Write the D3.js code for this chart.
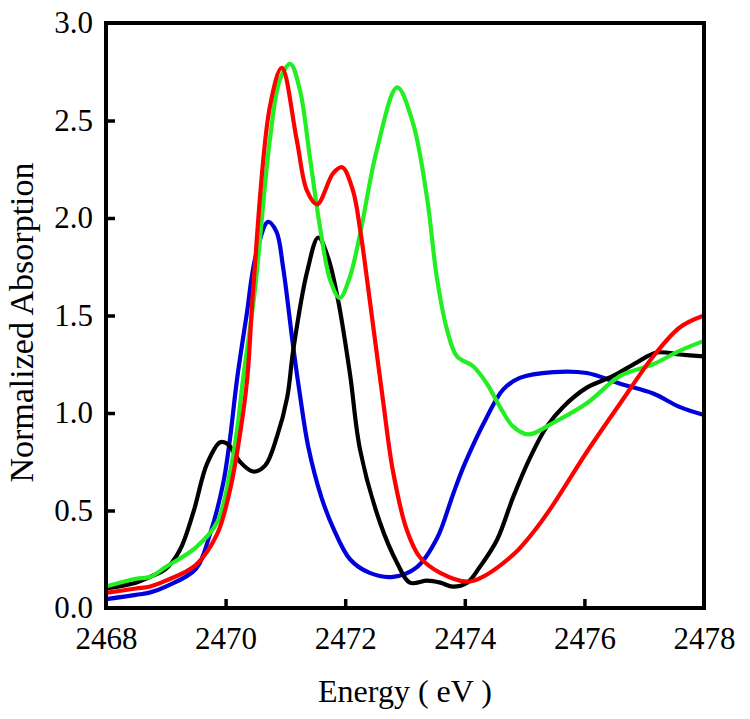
<!DOCTYPE html>
<html><head><meta charset="utf-8">
<script src="https://cdn.jsdelivr.net/npm/d3@7"></script>
<style>body{margin:0;background:#fff}svg{display:block}</style>
</head><body>
<svg id="c" width="750" height="719"></svg>
<script>
const xTicks = [2468, 2470, 2472, 2474, 2476, 2478];
const yTicks = [0.0, 0.5, 1.0, 1.5, 2.0, 2.5, 3.0];

const blueE = [2468, 2468.5, 2468.74, 2469, 2469.5, 2469.74, 2469.96, 2470.07, 2470.19, 2470.35, 2470.5, 2470.71, 2470.85, 2470.96, 2471.13, 2471.24, 2471.38, 2471.6, 2471.8, 2472.08, 2472.41, 2472.8, 2473.2, 2473.54, 2473.8, 2474.0, 2474.37, 2474.64, 2474.92, 2475.48, 2476.04, 2476.6, 2477.15, 2477.6, 2478];
const blueV = [0.045, 0.067, 0.08, 0.11, 0.20, 0.38, 0.64, 0.86, 1.17, 1.5, 1.8, 1.98, 1.93, 1.75, 1.34, 1.10, 0.83, 0.57, 0.41, 0.25, 0.18, 0.16, 0.21, 0.36, 0.58, 0.74, 0.98, 1.12, 1.18, 1.21, 1.205, 1.15, 1.10, 1.03, 0.99];

const redE = [2468, 2468.5, 2468.74, 2469, 2469.5, 2469.86, 2470.07, 2470.21, 2470.36, 2470.46, 2470.74, 2470.94, 2471.19, 2471.36, 2471.53, 2471.8, 2471.95, 2472.13, 2472.25, 2472.41, 2472.63, 2472.8, 2473.03, 2473.25, 2473.59, 2474.04, 2474.3, 2474.6, 2474.9, 2475.2, 2475.5, 2476.04, 2476.6, 2477.15, 2477.6, 2478];
const redV = [0.077, 0.10, 0.11, 0.14, 0.22, 0.38, 0.60, 0.83, 1.17, 1.63, 2.57, 2.77, 2.40, 2.14, 2.07, 2.23, 2.26, 2.14, 1.94, 1.58, 1.07, 0.70, 0.40, 0.26, 0.18, 0.135, 0.16, 0.22, 0.30, 0.41, 0.54, 0.80, 1.05, 1.29, 1.44, 1.50];

const greenE = [2468, 2468.5, 2468.74, 2469, 2469.5, 2469.86, 2470.07, 2470.19, 2470.29, 2470.49, 2470.74, 2470.91, 2471.08, 2471.24, 2471.41, 2471.58, 2471.75, 2471.91, 2472.08, 2472.25, 2472.53, 2472.87, 2473.13, 2473.37, 2473.53, 2473.7, 2473.87, 2474.14, 2474.37, 2474.59, 2474.81, 2475.06, 2475.48, 2476.04, 2476.6, 2477.15, 2477.6, 2478];
const greenV = [0.11, 0.15, 0.16, 0.21, 0.31, 0.44, 0.69, 0.91, 1.17, 1.63, 2.40, 2.71, 2.79, 2.66, 2.31, 1.95, 1.68, 1.59, 1.70, 1.92, 2.35, 2.67, 2.49, 2.10, 1.70, 1.43, 1.29, 1.24, 1.15, 1.03, 0.93, 0.89, 0.95, 1.05, 1.19, 1.25, 1.32, 1.37];

const blackE = [2468, 2468.5, 2468.74, 2469, 2469.24, 2469.46, 2469.69, 2469.91, 2470.04, 2470.24, 2470.46, 2470.66, 2470.86, 2471.03, 2471.13, 2471.36, 2471.55, 2471.71, 2471.88, 2472.08, 2472.25, 2472.58, 2472.87, 2473.08, 2473.37, 2473.59, 2473.8, 2474.04, 2474.25, 2474.54, 2474.81, 2475.09, 2475.37, 2475.64, 2476.04, 2476.48, 2476.88, 2477.21, 2477.6, 2478];
const blackV = [0.10, 0.13, 0.16, 0.20, 0.30, 0.49, 0.74, 0.85, 0.84, 0.75, 0.70, 0.73, 0.88, 1.08, 1.32, 1.72, 1.90, 1.80, 1.58, 1.20, 0.81, 0.44, 0.23, 0.13, 0.14, 0.13, 0.11, 0.13, 0.21, 0.35, 0.57, 0.77, 0.93, 1.03, 1.13, 1.19, 1.26, 1.31, 1.30, 1.29];

const series = [
  {e: blueE, v: blueV, color: "#0000dd"},
  {e: blackE, v: blackV, color: "#000000"},
  {e: greenE, v: greenV, color: "#22ee22"},
  {e: redE, v: redV, color: "#ff0000"}
];

const FONT = '"Liberation Serif"';
const svg = d3.select("#c");
const L = 106, R = 704, T = 23, B = 608;
const x = d3.scaleLinear().domain([2468, 2478]).range([L, R]);
const y = d3.scaleLinear().domain([0, 3]).range([B, T]);

svg.append("clipPath").attr("id", "clip").append("rect")
  .attr("x", L).attr("y", T).attr("width", R - L).attr("height", B - T);

const line = d3.line().x(d => x(d[0])).y(d => y(d[1])).curve(d3.curveCatmullRom.alpha(0.5));
const lines = svg.append("g").attr("clip-path", "url(#clip)");
series.forEach(s => {
  lines.append("path")
    .datum(s.e.map((e, i) => [e, s.v[i]]))
    .attr("fill", "none").attr("stroke", s.color)
    .attr("stroke-width", 4.2).attr("stroke-linejoin", "round")
    .attr("d", line);
});

const xAxis = d3.axisBottom(x).tickValues(xTicks).tickSizeInner(-9).tickSizeOuter(0).tickPadding(19)
  .tickFormat(d3.format("d"));
const gx = svg.append("g").attr("transform", `translate(0,${B})`).call(xAxis);
const yAxis = d3.axisLeft(y).tickValues(yTicks).tickSizeInner(-9).tickSizeOuter(0).tickPadding(13)
  .tickFormat(d3.format(".1f"));
const gy = svg.append("g").attr("transform", `translate(${L},0)`).call(yAxis);
[gx, gy].forEach(g => {
  g.select(".domain").remove();
  g.selectAll(".tick line").attr("stroke", "#000").attr("stroke-width", 3.5);
  g.selectAll(".tick text").style("font-family", FONT).style("font-size", "31px").attr("fill", "#000");
});
gx.selectAll(".tick").filter(d => d === 2468 || d === 2478).select("line").remove();
gy.selectAll(".tick").filter(d => d === 0 || d === 3).select("line").remove();

svg.append("rect").attr("x", L).attr("y", T).attr("width", R - L).attr("height", B - T)
  .attr("fill", "none").attr("stroke", "#000").attr("stroke-width", 4);

svg.append("text").attr("x", (L + R) / 2).attr("y", 702).attr("text-anchor", "middle")
  .style("font-family", FONT).style("font-size", "32px").text("Energy ( eV )");
svg.append("text").attr("transform", `translate(33,${(T + B) / 2 + 7}) rotate(-90)`).attr("text-anchor", "middle")
  .style("font-family", FONT).style("font-size", "34px").text("Normalized Absorption");
</script>
</body></html>
